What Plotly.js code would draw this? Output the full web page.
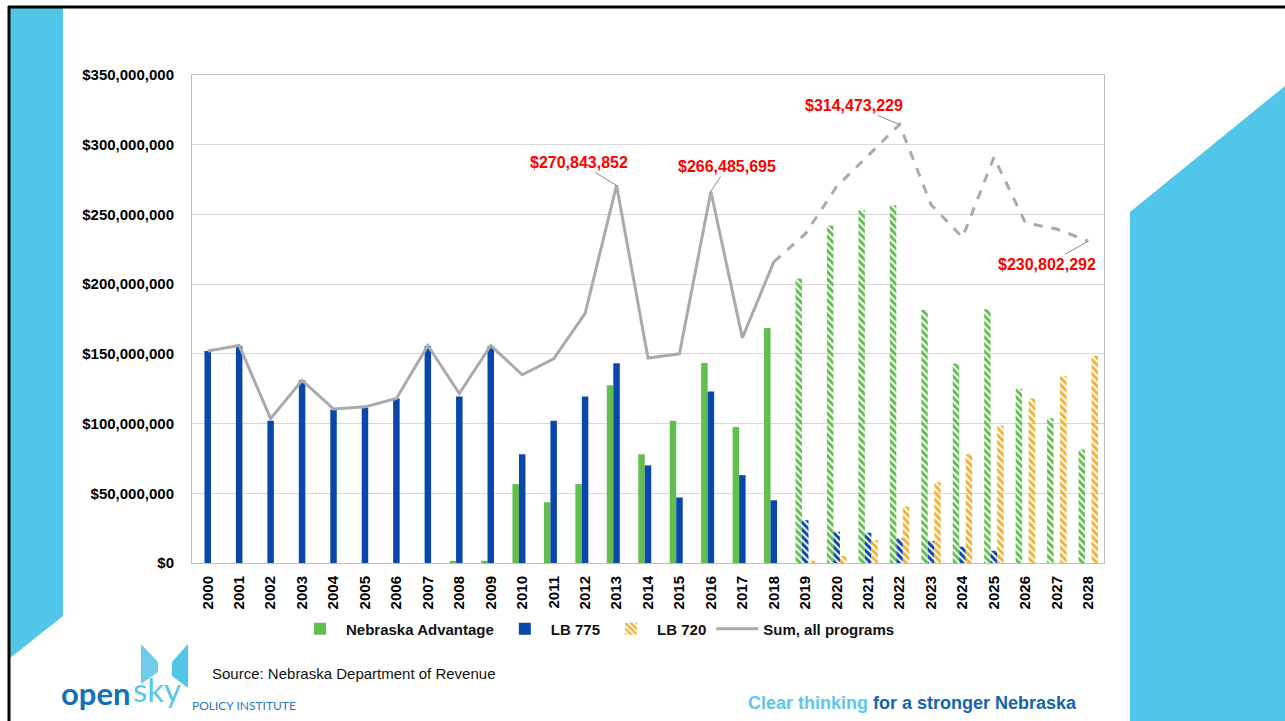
<!DOCTYPE html>
<html>
<head>
<meta charset="utf-8">
<script src="https://cdn.plot.ly/plotly-3.0.1.min.js"></script>
<style>
html,body{margin:0;padding:0;background:#fff;}
#chart{width:1285px;height:721px;}
</style>
</head>
<body>
<div id="chart"></div>
<script>
const years = ['2000','2001','2002','2003','2004','2005','2006','2007','2008','2009','2010','2011','2012','2013','2014','2015','2016','2017','2018','2019','2020','2021','2022','2023','2024','2025','2026','2027','2028'];
const nebraskaAdvantage = [0,0,0,0,0,0,0,0,1.5,1.5,56.6,43.6,56.6,127.5,78,102,143.5,97.5,168.6,204,242,253,256.5,181.4,143,182,125,103.8,81.4];
const lb775 = [152,155.7,102,131,110,111.5,118,155.7,119.5,155.5,78,102,119.5,143.3,70,47,123,63,45,30.7,22.4,21.7,17.5,15.7,11.7,8.8,0,0,0];
const lb720 = [0,0,0,0,0,0,0,0,0,0,0,0,0,0,0,0,0,0,0,1.6,5,16.4,40.5,58,78,98.6,117.9,134,148.6];
const sumAll = [152,156,103.5,131,110.5,112,118,156,121.5,156,135,146.5,179,270.843852,147,150,266.485695,161.5,216,236,270,292,314.473229,257,233.5,291,244,239.5,230.802292];
const projectedFrom = '2019';
const labels = [
  {year:'2013', text:'$270,843,852'},
  {year:'2016', text:'$266,485,695'},
  {year:'2022', text:'$314,473,229'},
  {year:'2028', text:'$230,802,292'}
];

const M = 1e6;
const toM = a => a.map(v => v*M);
const projIdx = years.indexOf(projectedFrom);
const shapeArr = years.map((y,i) => i >= projIdx ? '\\' : '');

const GREEN = '#62bf4f', BLUE = '#0a47ab', ORANGE = '#f2b233', GREY = '#aaaaaa';
const FONT = 'Liberation Sans, Arial, sans-serif';

const traces = [
  {type:'bar', name:'Nebraska Advantage', x:years, y:toM(nebraskaAdvantage),
   marker:{color:GREEN, pattern:{shape:shapeArr, size:5, solidity:0.6, fillmode:'replace'}}},
  {type:'bar', name:'LB 775', x:years, y:toM(lb775),
   marker:{color:BLUE, pattern:{shape:shapeArr, size:5, solidity:0.6, fillmode:'replace'}}},
  {type:'bar', name:'LB 720', x:years, y:toM(lb720),
   marker:{color:ORANGE, pattern:{shape:'\\', size:5, solidity:0.6, fillmode:'replace'}}},
  {type:'scatter', mode:'lines', name:'Sum, all programs', x:years.slice(0, projIdx), y:toM(sumAll.slice(0, projIdx)),
   line:{color:GREY, width:3}},
  {type:'scatter', mode:'lines', name:'Sum, all programs (projected)', showlegend:false,
   x:years.slice(projIdx-1), y:toM(sumAll.slice(projIdx-1)),
   line:{color:GREY, width:3, dash:'dash'}}
];

// layout geometry (pixels)
const L=192, R=1104, T=75, B=563;
const px = x => (x-L)/(R-L);
const py = y => (B-y)/(B-T);
const poly = pts => 'M ' + pts.map(p => px(p[0]).toFixed(5)+','+py(p[1]).toFixed(5)).join(' L ') + ' Z';

const shapes = [
  {type:'path', xref:'paper', yref:'paper', layer:'below', path:poly([[10,8],[63,8],[63,616],[10,658]]), fillcolor:'#50c6e8', line:{width:0}},
  {type:'path', xref:'paper', yref:'paper', layer:'below', path:poly([[1130,212],[1285,86],[1285,721],[1130,721]]), fillcolor:'#50c6e8', line:{width:0}},
  {type:'line', xref:'paper', yref:'paper', x0:px(8), x1:px(1285), y0:py(7), y1:py(7), line:{color:'#000', width:3}},
  {type:'line', xref:'paper', yref:'paper', x0:px(9), x1:px(9), y0:py(6), y1:py(721), line:{color:'#000', width:3}},
  // logo icon
  {type:'path', xref:'paper', yref:'paper', path:poly([[141,644],[158,662],[158,672],[141,684]]), fillcolor:'#6fcbea', line:{width:0}},
  {type:'path', xref:'paper', yref:'paper', path:poly([[188,644],[172,662],[172,676],[188,688]]), fillcolor:'#50c6e8', line:{width:0}}
];

const offs = {'2013':[-38,-23], '2016':[16,-25], '2022':[-46,-19], '2028':[-41,23]};
const annotations = labels.map(l => {
  const i = years.indexOf(l.year);
  return {x:i, y:sumAll[i]*M, xref:'x', yref:'y', text:l.text, showarrow:true, arrowhead:0,
    arrowwidth:1, arrowcolor:'#8c8c8c', ax:offs[l.year][0], ay:offs[l.year][1], standoff:0,
    font:{family:FONT, size:16, color:'#ff0000', weight:'bold'}};
});
annotations.push(
  {xref:'paper', yref:'paper', x:px(210), y:py(673), xanchor:'left', yanchor:'middle', showarrow:false,
   text:'Source: Nebraska Department of Revenue', font:{family:FONT, size:15, color:'#111'}},
  {xref:'paper', yref:'paper', x:px(59), y:py(693), xanchor:'left', yanchor:'middle', showarrow:false,
   text:'<b>open</b>', font:{family:'Lato, sans-serif', size:31, color:'#1170b8'}},
  {xref:'paper', yref:'paper', x:px(131), y:py(689), xanchor:'left', yanchor:'middle', showarrow:false,
   text:'sky', font:{family:'Lato, sans-serif', size:33, color:'#5ac8ea'}},
  {xref:'paper', yref:'paper', x:px(190), y:py(705), xanchor:'left', yanchor:'middle', showarrow:false,
   text:'POLICY INSTITUTE', font:{family:'Lato, sans-serif', size:12, color:'#2a79bf'}},
  {xref:'paper', yref:'paper', x:px(746), y:py(703), xanchor:'left', yanchor:'middle', showarrow:false,
   text:'<b><span style="color:#5bc8ea">Clear thinking</span> for a stronger Nebraska</b>',
   font:{family:FONT, size:18, color:'#1565a8'}}
);

const layout = {
  width:1285, height:721,
  margin:{l:L, r:1285-R, t:T, b:721-B, pad:0},
  paper_bgcolor:'#ffffff', plot_bgcolor:'#ffffff',
  barmode:'group', bargap:0.38, bargroupgap:0,
  showlegend:true,
  legend:{orientation:'h', x:px(597), xanchor:'center', y:py(629), yanchor:'middle',
    font:{family:FONT, size:15, color:'#111', weight:'bold'}, traceorder:'normal', itemwidth:42},
  xaxis:{type:'category', range:[-0.5, years.length-0.5], autorange:false, tickangle:-90,
    tickfont:{family:FONT, size:15, color:'#000', weight:'bold'}, ticklabelstandoff:6,
    showgrid:false, showline:true, linecolor:'#bfbfbf', linewidth:1, mirror:true, ticks:'', ticklen:0},
  yaxis:{range:[0,350*M], autorange:false, dtick:50*M, tickprefix:'$', tickformat:',.0f',
    tickfont:{family:FONT, size:15, color:'#000', weight:'bold'},
    showgrid:true, gridcolor:'#d9d9d9', gridwidth:1, showline:true, linecolor:'#bfbfbf', linewidth:1, mirror:true,
    zeroline:false, ticks:'', ticklabelstandoff:14},
  shapes:shapes,
  annotations:annotations
};

Plotly.newPlot('chart', traces, layout, {displayModeBar:false, staticPlot:true});
</script>
</body>
</html>
